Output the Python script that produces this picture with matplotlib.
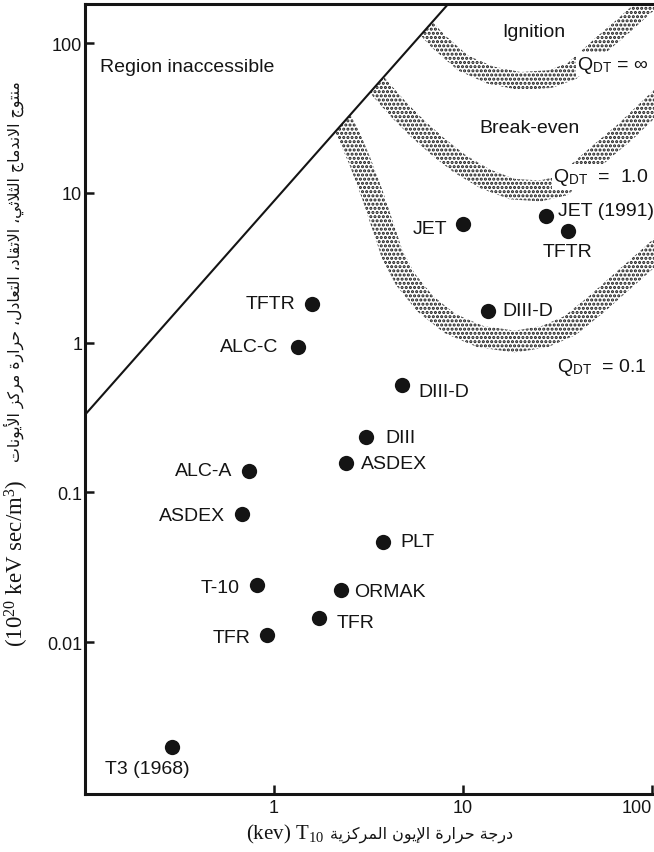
import numpy as np
import matplotlib
matplotlib.use("Agg")
import matplotlib.pyplot as plt
from matplotlib.patches import Polygon
from matplotlib.ticker import FixedLocator, FixedFormatter, NullLocator

# ---------------------------------------------------------------- data
machines = ["T3 (1968)", "TFR", "TFR", "T-10", "ORMAK", "PLT", "ASDEX", "ALC-A",
            "ASDEX", "DIII", "DIII-D", "ALC-C", "TFTR", "DIII-D", "JET",
            "JET (1991)", "TFTR"]
ion_temp_kev = [0.29, 0.92, 1.73, 0.81, 2.26, 3.77, 0.68, 0.74,
                2.40, 3.07, 4.76, 1.34, 1.59, 13.6, 10.0, 27.5, 35.9]
triple_product = [0.002, 0.0111, 0.0145, 0.024, 0.0222, 0.047, 0.072, 0.14,
                  0.158, 0.236, 0.52, 0.94, 1.82, 1.63, 6.2, 7.0, 5.6]

# boundary of the inaccessible region
limit_t = [0.1, 10.0]
limit_v = [0.33, 236.0]

# Q_DT contours (band centre lines)
q_inf_t = [6.3, 7.38, 10.0, 13.9, 20.0, 28.9, 37.7, 45.8, 54.4, 69.4, 88.5, 113.0]
q_inf_v = [128.0, 103.0, 73.6, 61.2, 55.8, 57.5, 65.1, 80.7, 98.5, 128.0, 169.0, 222.0]

q_one_t = [3.3, 3.73, 4.64, 5.78, 7.38, 9.64, 13.1, 18.2, 25.5, 33.4, 44.2, 56.4,
           72.0, 91.8, 117.0]
q_one_v = [57.5, 47.9, 35.2, 26.7, 20.3, 15.6, 12.4, 10.6, 10.3, 11.1, 15.1, 19.7,
           25.5, 34.2, 45.7]

q_tenth_t = [2.18, 2.46, 2.85, 3.3, 3.73, 4.21, 4.93, 6.3, 8.54, 12.3, 18.8, 27.2,
             36.8, 51.2, 72.0, 97.6, 124.5]
q_tenth_v = [33.0, 25.0, 16.2, 9.85, 6.21, 3.92, 2.67, 1.82, 1.34, 1.10, 1.015, 1.10,
             1.30, 1.82, 2.67, 3.74, 4.94]

x_ticks = [1, 10, 100]
x_tick_labels = ["1", "10", "100"]
y_ticks = [0.01, 0.1, 1, 10, 100]
y_tick_labels = ["0.01", "0.1", "1", "10", "100"]

# label placement for each machine: (dx px, dy px, horizontal alignment)
label_place = [(-25, -22, "center"), (-17, -2, "right"), (18, -4, "left"),
               (-17, -2, "right"), (13, -1, "left"), (17, 0, "left"),
               (-17, -2, "right"), (-17, 0, "right"), (15, -1, "left"),
               (19, -1, "left"), (16, -6, "left"), (-20, 0, "right"),
               (-17, 0, "right"), (14, 0, "left"), (-16, -5, "right"),
               (12, 6, "left"), (0, -21, "center")]


# ---------------------------------------------------------------- Arabic shaping
# (isolated, final, initial, medial) presentation forms
FORMS = {
    "\u0627": ("\uFE8D", "\uFE8E", None, None),
    "\u0623": ("\uFE83", "\uFE84", None, None),
    "\u0625": ("\uFE87", "\uFE88", None, None),
    "\u0629": ("\uFE93", "\uFE94", None, None),
    "\u062A": ("\uFE95", "\uFE96", "\uFE97", "\uFE98"),
    "\u062B": ("\uFE99", "\uFE9A", "\uFE9B", "\uFE9C"),
    "\u062C": ("\uFE9D", "\uFE9E", "\uFE9F", "\uFEA0"),
    "\u062D": ("\uFEA1", "\uFEA2", "\uFEA3", "\uFEA4"),
    "\u062F": ("\uFEA9", "\uFEAA", None, None),
    "\u0631": ("\uFEAD", "\uFEAE", None, None),
    "\u0632": ("\uFEAF", "\uFEB0", None, None),
    "\u0639": ("\uFEC9", "\uFECA", "\uFECB", "\uFECC"),
    "\u0642": ("\uFED5", "\uFED6", "\uFED7", "\uFED8"),
    "\u0643": ("\uFED9", "\uFEDA", "\uFEDB", "\uFEDC"),
    "\u0644": ("\uFEDD", "\uFEDE", "\uFEDF", "\uFEE0"),
    "\u0645": ("\uFEE1", "\uFEE2", "\uFEE3", "\uFEE4"),
    "\u0646": ("\uFEE5", "\uFEE6", "\uFEE7", "\uFEE8"),
    "\u0648": ("\uFEED", "\uFEEE", None, None),
    "\u064A": ("\uFEF1", "\uFEF2", "\uFEF3", "\uFEF4"),
}
LAM_ALEF = {"\u0627": ("\uFEFB", "\uFEFC"),
            "\u0623": ("\uFEF7", "\uFEF8"),
            "\u0625": ("\uFEF9", "\uFEFA")}


def joins_next(c):
    f = FORMS.get(c)
    return f is not None and f[2] is not None


def arabic_visual(text):
    out = []
    i, n = 0, len(text)
    while i < n:
        c = text[i]
        if c not in FORMS:
            out.append(c)
            i += 1
            continue
        linked_prev = i > 0 and joins_next(text[i - 1])
        if c == "\u0644" and i + 1 < n and text[i + 1] in LAM_ALEF:
            out.append(LAM_ALEF[text[i + 1]][1 if linked_prev else 0])
            i += 2
            continue
        linked_next = joins_next(c) and i + 1 < n and text[i + 1] in FORMS
        iso, fin, ini, med = FORMS[c]
        if linked_prev and linked_next:
            out.append(med)
        elif linked_prev:
            out.append(fin)
        elif linked_next:
            out.append(ini)
        else:
            out.append(iso)
        i += 1
    return "".join(reversed(out))


x_title_units = "(kev) T$_{10}$"
x_title_words = arabic_visual("درجة حرارة الإيون المركزية")
y_title_units = "(10$^{20}$ keV sec/m$^{3}$)"
y_title_words = arabic_visual(
    "منتوج الاندماج الثلاثي، الاتقاد، التعادل، حرارة مركز الأيونات")

# ---------------------------------------------------------------- figure
plt.rcParams["mathtext.fontset"] = "custom"
plt.rcParams["mathtext.rm"] = "Liberation Serif"
plt.rcParams["mathtext.it"] = "Liberation Serif:italic"
plt.rcParams["mathtext.bf"] = "Liberation Serif:bold"
plt.rcParams["mathtext.sf"] = "Liberation Sans"
plt.rcParams["hatch.linewidth"] = 1.5

INK = "#141414"
SANS = "Liberation Sans"
SERIF = "Liberation Serif"
ARABIC = "DejaVu Sans"

W, H = 654, 853
fig = plt.figure(figsize=(W / 100, H / 100), dpi=100)
ax = fig.add_axes([0.130, 0.068, 0.954, 0.926])
ax.set_xscale("log")
ax.set_yscale("log")
ax.set_xlim(0.1, 200)
ax.set_ylim(0.00097, 182)

for sp in ax.spines.values():
    sp.set_linewidth(2.2)
    sp.set_color(INK)

ax.xaxis.set_major_locator(FixedLocator(x_ticks))
ax.xaxis.set_major_formatter(FixedFormatter(x_tick_labels))
ax.yaxis.set_major_locator(FixedLocator(y_ticks))
ax.yaxis.set_major_formatter(FixedFormatter(y_tick_labels))
ax.xaxis.set_minor_locator(NullLocator())
ax.yaxis.set_minor_locator(NullLocator())
ax.tick_params(which="major", direction="in", length=6.5, width=1.8, color=INK,
               labelsize=13, labelcolor=INK)
ax.tick_params(axis="x", pad=3.5)
ax.tick_params(axis="y", pad=2)
for lab in ax.get_xticklabels() + ax.get_yticklabels():
    lab.set_fontfamily(SANS)
# the last x label sits against the right edge of the page
ax.get_xticklabels()[-1].set_horizontalalignment("right")

# inaccessible-region boundary
ax.plot(limit_t, limit_v, color=INK, lw=1.5, zorder=2, solid_capstyle="butt")

# region below the boundary, used to trim the contour bands
clip_region = Polygon([(limit_t[0], limit_v[0]), (limit_t[1], limit_v[1]),
                       (1e4, limit_v[1]), (1e4, 1e-5), (limit_t[0], 1e-5)],
                      closed=True, transform=ax.transData)


def band(t, v, width_px):
    pts = ax.transData.transform(np.column_stack([t, v]))
    d = np.gradient(pts, axis=0)
    d /= np.hypot(d[:, 0], d[:, 1])[:, None]
    nrm = np.column_stack([-d[:, 1], d[:, 0]])
    outline = np.vstack([pts + nrm * width_px / 2, (pts - nrm * width_px / 2)[::-1]])
    verts = ax.transData.inverted().transform(outline)
    patch = Polygon(verts, closed=True, facecolor="none", edgecolor="#1a1a1a",
                    linewidth=0, hatch="....", zorder=1)
    ax.add_patch(patch)
    patch.set_clip_path(clip_region)


band(q_inf_t, q_inf_v, 18)
band(q_one_t, q_one_v, 21)
band(q_tenth_t, q_tenth_v, 22)

# machines
ax.plot(ion_temp_kev, triple_product, "o", color=INK, markersize=11,
        markeredgewidth=0, zorder=4)
for name, t, v, (dx, dy, ha) in zip(machines, ion_temp_kev, triple_product, label_place):
    ax.annotate(name, (t, v), xytext=(dx * 0.72, dy * 0.72),
                textcoords="offset points", ha=ha, va="center",
                fontsize=14, family=SANS, color=INK, zorder=5)

# region annotations
ax.text(0.12, 70, "Region inaccessible", fontsize=14, family=SANS, color=INK,
        ha="left", va="center")
ax.text(23.8, 120, "Ignition", fontsize=14, family=SANS, color=INK,
        ha="center", va="center")
ax.text(22.4, 27.5, "Break-even", fontsize=14, family=SANS, color=INK,
        ha="center", va="center")

q_box = dict(facecolor="white", edgecolor="none", pad=1.0)
ax.text(40.1, 72.4, "Q$_{\\mathsf{DT}}$ = \u221e", fontsize=14, family=SANS,
        color=INK, ha="left", va="center", bbox=q_box, zorder=3)
ax.text(29.9, 12.8, "Q$_{\\mathsf{DT}}$  =  1.0", fontsize=14, family=SANS,
        color=INK, ha="left", va="center", bbox=q_box, zorder=3)
ax.text(31.4, 0.69, "Q$_{\\mathsf{DT}}$  = 0.1", fontsize=14, family=SANS,
        color=INK, ha="left", va="center", bbox=q_box, zorder=3)

# axis titles: Latin units in serif, Arabic words in a font that carries them
fig.text(324 / W, 1 - 839 / H, x_title_units, fontsize=15, family=SERIF,
         color=INK, ha="right", va="baseline")
fig.text(330 / W, 1 - 839 / H, x_title_words, fontsize=11.5, family=ARABIC,
         color=INK, ha="left", va="baseline")

fig.text(17 / W, 1 - 647 / H, y_title_units, fontsize=16.5, family=SERIF,
         color=INK, rotation=90, rotation_mode="anchor", ha="left", va="center")
fig.text(14 / W, 1 - 462 / H, y_title_words, fontsize=11.3, family=ARABIC,
         color=INK, rotation=90, rotation_mode="anchor", ha="left", va="center")

fig.savefig("out.png", dpi=100)
